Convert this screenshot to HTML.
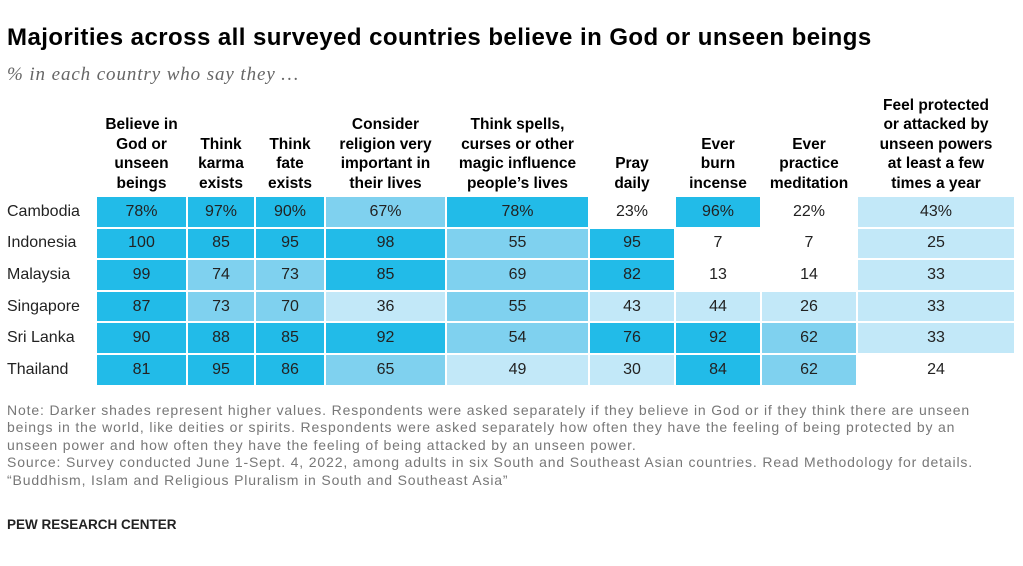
<!DOCTYPE html>
<html><head><meta charset="utf-8">
<style>
body{margin:0;background:#fff;width:1023px;height:566px;overflow:hidden;position:relative;font-family:"Liberation Sans",sans-serif;color:#000}
.abs{position:absolute}
#title{left:7px;top:24px;font-size:24px;font-weight:bold;letter-spacing:0.45px;white-space:nowrap}
#sub{left:7px;top:64px;font-family:"Liberation Serif",serif;font-style:italic;font-size:19px;letter-spacing:0.9px;color:#666;white-space:nowrap}
.hd{position:absolute;bottom:373px;font-weight:bold;font-size:15.5px;line-height:19.5px;text-align:center}
.cell{position:absolute;display:flex;align-items:center;justify-content:center;font-size:16px;color:#222}
.ctry{position:absolute;left:7px;font-size:16px;color:#222;display:flex;align-items:center}
#note{left:7px;top:402px;font-size:14px;letter-spacing:0.85px;color:#777;line-height:17.4px;white-space:nowrap}
#pew{left:7px;top:517px;font-size:13.5px;font-weight:bold;color:#222}
</style></head><body>
<div id="title" class="abs">Majorities across all surveyed countries believe in God or unseen beings</div>
<div id="sub" class="abs">% in each country who say they …</div>
<div id="table"></div>
<div id="note" class="abs">Note: Darker shades represent higher values. Respondents were asked separately if they believe in God or if they think there are unseen<br>beings in the world, like deities or spirits. Respondents were asked separately how often they have the feeling of being protected by an<br>unseen power and how often they have the feeling of being attacked by an unseen power.<br>Source: Survey conducted June 1-Sept. 4, 2022, among adults in six South and Southeast Asian countries. Read Methodology for details.<br>“Buddhism, Islam and Religious Pluralism in South and Southeast Asia”</div>
<div id="pew" class="abs">PEW RESEARCH CENTER</div>
<script>
const headers=["Believe in<br>God or<br>unseen<br>beings","Think<br>karma<br>exists","Think<br>fate<br>exists","Consider<br>religion very<br>important in<br>their lives","Think spells,<br>curses or other<br>magic influence<br>people’s lives","Pray<br>daily","Ever<br>burn<br>incense","Ever<br>practice<br>meditation","Feel protected<br>or attacked by<br>unseen powers<br>at least a few<br>times a year"];
const countries=["Cambodia","Indonesia","Malaysia","Singapore","Sri Lanka","Thailand"];
const values=[
[78,97,90,67,78,23,96,22,43],
[100,85,95,98,55,95,7,7,25],
[99,74,73,85,69,82,13,14,33],
[87,73,70,36,55,43,44,26,33],
[90,88,85,92,54,76,92,62,33],
[81,95,86,65,49,30,84,62,24]];
const shades=[
[3,3,3,2,3,0,3,0,1],
[3,3,3,3,2,3,0,0,1],
[3,2,2,3,2,3,0,0,1],
[3,2,2,1,2,1,1,1,1],
[3,3,3,3,2,3,3,2,1],
[3,3,3,2,1,1,3,2,0]];
const colX=[97,188,256,326,447,590,676,762,858,1016];
const rowY=[197,228.6,260.2,291.8,323.4,355,386.6];
const colors=["#ffffff","#c2e8f8","#7fd1ef","#22bbe8"];
const t=document.getElementById('table');
headers.forEach((h,i)=>{
 const d=document.createElement('div');
 d.className='hd';
 
 
 d.style.left=colX[i]+'px';d.style.width=(colX[i+1]-colX[i]-2)+'px';
 d.innerHTML=h;t.appendChild(d);
});
countries.forEach((c,r)=>{
 const y=rowY[r],h=rowY[r+1]-rowY[r]-2;
 const l=document.createElement('div');
 l.className='ctry';
 
 
 l.style.top=y+'px';l.style.height=h+'px';l.textContent=c;t.appendChild(l);
 values[r].forEach((v,i)=>{
  const d=document.createElement('div');
  d.className='cell';
  
  
  d.style.left=colX[i]+'px';d.style.top=y+'px';
  d.style.width=(colX[i+1]-colX[i]-2)+'px';d.style.height=h+'px';
  d.style.background=colors[shades[r][i]];
  d.textContent=v+(r===0?'%':'');
  t.appendChild(d);
 });
});
</script>
</body></html>
